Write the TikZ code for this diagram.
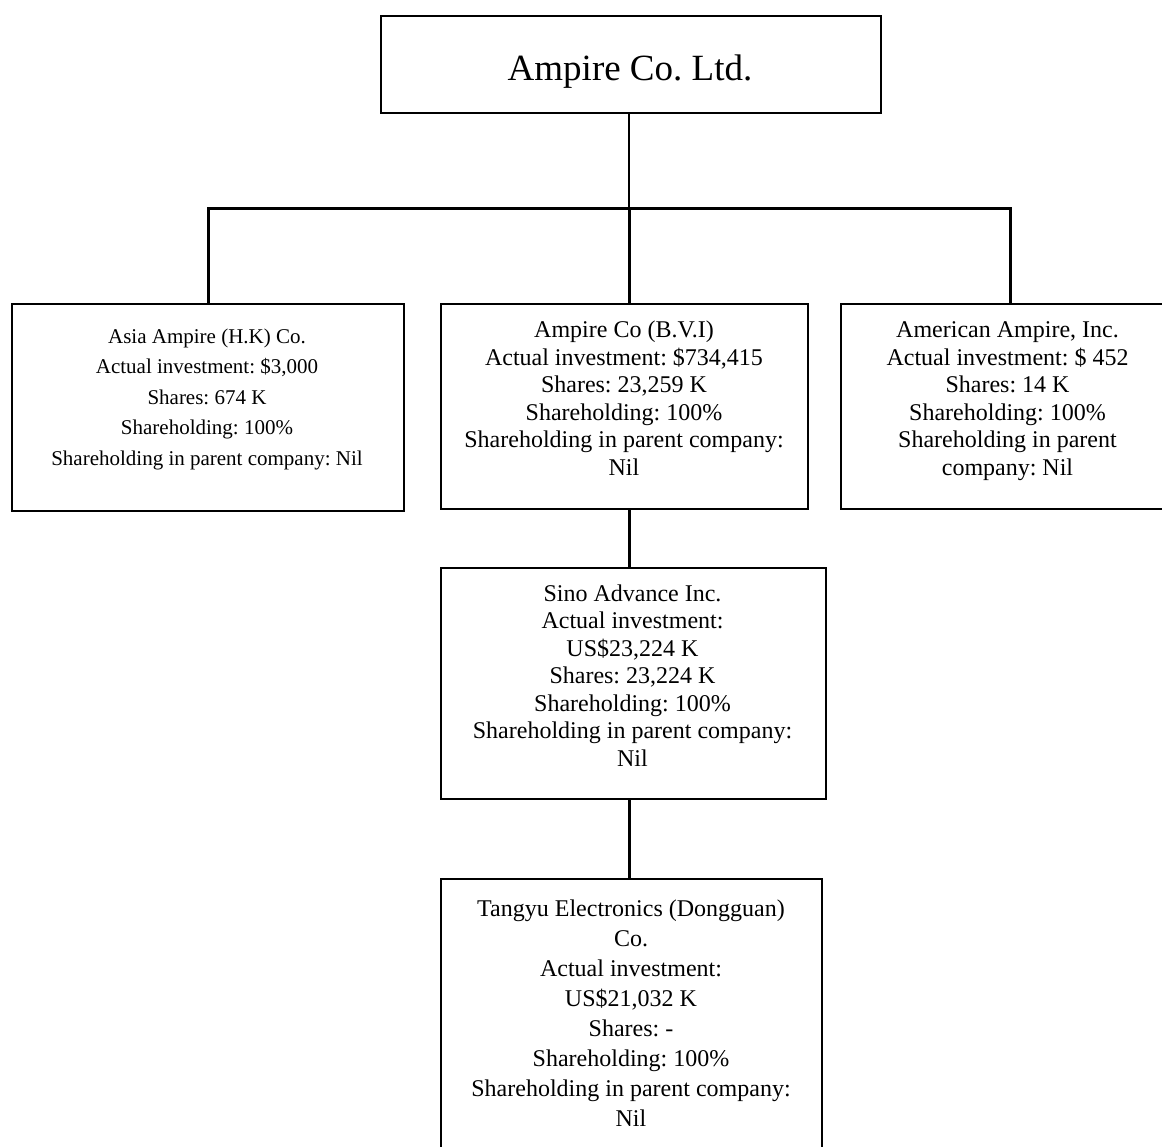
\documentclass[tikz,border=0pt]{standalone}
\usepackage{fontspec}
\setmainfont{Liberation Serif}
\frenchspacing
\tikzset{
  box/.style={draw=black, line width=2.4pt, rectangle, inner sep=0pt, outer sep=0pt, fill=white},
  thinlink/.style={draw=black, line width=2pt},
  thicklink/.style={draw=black, line width=3pt},
  lbl/.style={anchor=base, inner sep=0pt, outer sep=0pt, text=black}
}
\newcommand{\smalltxt}[1]{\parbox[t]{400pt}{\centering\frenchspacing\fontsize{21}{30.5}\selectfont #1}}
\newcommand{\midtxt}[1]{\parbox[t]{400pt}{\centering\frenchspacing\fontsize{24}{27.5}\selectfont #1}}
\newcommand{\tallmidtxt}[1]{\parbox[t]{400pt}{\centering\frenchspacing\fontsize{24}{30}\selectfont #1}}
\begin{document}
\begin{tikzpicture}[x=1pt,y=-1pt]
\useasboundingbox (0,0) rectangle (1162,1146);
\clip (0,0) rectangle (1162,1146);
\fill[white] (0,0) rectangle (1162,1146);

% boxes
\node[box, minimum width=500pt, minimum height=97pt] (top) at (631,64.5) {};
\node[box, minimum width=392pt, minimum height=207pt] (asia) at (208,407.5) {};
\node[box, minimum width=367pt, minimum height=205pt] (bvi) at (624.5,406.5) {};
\node[box, minimum width=338pt, minimum height=205pt] (amer) at (1010,406.5) {};
\node[box, minimum width=385pt, minimum height=231pt] (sino) at (633.5,683.5) {};
\node[box, minimum width=381pt, minimum height=291pt] (tangyu) at (631.5,1024.5) {};

\coordinate (bus) at (629,208);

% connectors
\draw[thinlink] (top.south -| bus) -- (bus);
\draw[thicklink] (asia.north) |- (bus);
\draw[thicklink] (bus) -| (amer.north);
\draw[thicklink] (bus) -- (bvi.north -| bus);
\draw[thicklink] (bvi.south -| bus) -- (sino.north -| bus);
\draw[thicklink] (sino.south -| bus) -- (tangyu.north -| bus);

% texts
\node[lbl] (topT) at (630,80) {\fontsize{37}{40}\selectfont Ampire Co. Ltd.};
\node[lbl] (asiaT) at (207,343.3) {\smalltxt{Asia Ampire (H.K) Co.\\Actual investment: \$3,000\\Shares: 674 K\\Shareholding: 100\%\\Shareholding in parent company: Nil}};
\node[lbl] (bviT) at (624,337.7) {\midtxt{Ampire Co (B.V.I)\\Actual investment: \$734,415\\Shares: 23,259 K\\Shareholding: 100\%\\Shareholding in parent company:\\Nil}};
\node[lbl] (amerT) at (1007.5,337.7) {\midtxt{American Ampire, Inc.\\Actual investment: \$ 452\\Shares: 14 K\\Shareholding: 100\%\\Shareholding in parent\\company: Nil}};
\node[lbl] (sinoT) at (632.5,601) {\midtxt{Sino Advance Inc.\\Actual investment:\\US\$23,224 K\\Shares: 23,224 K\\Shareholding: 100\%\\Shareholding in parent company:\\Nil}};
\node[lbl] (tangyuT) at (631,916.7) {\tallmidtxt{Tangyu Electronics (Dongguan)\\Co.\\Actual investment:\\US\$21,032 K\\Shares: -\\Shareholding: 100\%\\Shareholding in parent company:\\Nil}};
\end{tikzpicture}
\end{document}
